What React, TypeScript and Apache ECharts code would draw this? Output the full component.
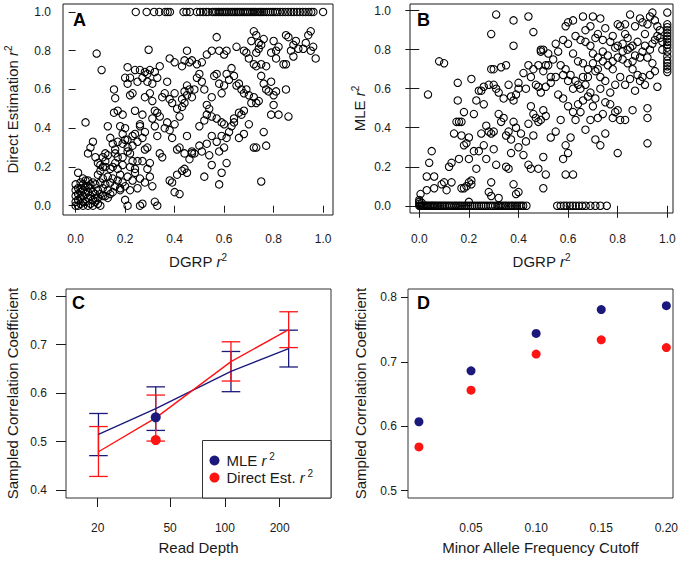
import React, { useEffect, useRef } from "react";
import * as echarts from "echarts";

// ---------- Panel A: DGRP r2 vs Direct Estimation r2 ----------
const aTopRowX = [0.243, 0.287, 0.317, 0.338, 0.362, 0.372, 0.381, 0.436, 0.448, 0.462, 0.49, 0.503, 0.516, 0.527, 0.536, 0.552, 0.561, 0.568, 0.577, 0.583, 0.591, 0.598, 0.606, 0.612, 0.619, 0.627, 0.633, 0.641, 0.648, 0.655, 0.662, 0.668, 0.676, 0.683, 0.691, 0.697, 0.705, 0.713, 0.72, 0.728, 0.737, 0.745, 0.752, 0.761, 0.77, 0.779, 0.788, 0.797, 0.806, 0.815, 0.826, 0.837, 0.848, 0.859, 0.871, 0.882, 0.894, 0.906, 0.918, 0.929, 0.941, 0.952, 0.961, 1.0];
const aPoints = [
  [0.085, 0.785], [0.105, 0.7], [0.295, 0.805], [0.21, 0.715], [0.24, 0.7], [0.26, 0.7], [0.28, 0.69], [0.3, 0.7], [0.32, 0.69], [0.34, 0.72],
  [0.22, 0.66], [0.25, 0.64], [0.27, 0.66], [0.29, 0.68], [0.31, 0.63], [0.33, 0.66], [0.38, 0.76], [0.4, 0.74], [0.43, 0.72], [0.44, 0.75],
  [0.45, 0.8], [0.46, 0.74], [0.47, 0.75], [0.49, 0.73], [0.51, 0.74], [0.53, 0.78], [0.55, 0.8], [0.58, 0.8], [0.6, 0.78], [0.61, 0.8],
  [0.57, 0.87], [0.65, 0.82], [0.68, 0.8], [0.69, 0.79], [0.7, 0.76], [0.71, 0.85], [0.72, 0.9], [0.73, 0.88], [0.74, 0.84], [0.75, 0.83],
  [0.76, 0.86], [0.74, 0.81], [0.73, 0.79], [0.72, 0.73], [0.73, 0.72], [0.75, 0.73], [0.77, 0.72], [0.79, 0.79], [0.8, 0.85], [0.81, 0.8],
  [0.82, 0.82], [0.81, 0.76], [0.84, 0.73], [0.85, 0.88], [0.86, 0.87], [0.87, 0.8], [0.88, 0.83], [0.89, 0.85], [0.88, 0.77], [0.92, 0.81],
  [0.93, 0.84], [0.94, 0.88], [0.95, 0.9], [0.96, 0.82], [0.97, 0.76], [0.95, 0.8], [0.9, 0.81], [0.85, 0.73],
  [0.155, 0.6], [0.16, 0.555], [0.155, 0.48], [0.17, 0.49], [0.19, 0.47], [0.2, 0.66], [0.22, 0.57], [0.23, 0.58], [0.21, 0.63], [0.24, 0.49],
  [0.26, 0.42], [0.27, 0.47], [0.28, 0.56], [0.29, 0.64], [0.3, 0.58], [0.31, 0.54], [0.32, 0.49], [0.33, 0.48], [0.34, 0.46], [0.35, 0.56],
  [0.36, 0.58], [0.37, 0.64], [0.38, 0.55], [0.39, 0.53], [0.4, 0.58], [0.41, 0.5], [0.42, 0.46], [0.43, 0.55], [0.44, 0.59], [0.45, 0.62],
  [0.45, 0.57], [0.46, 0.6], [0.47, 0.56], [0.44, 0.53], [0.43, 0.51], [0.48, 0.6], [0.49, 0.66], [0.5, 0.68], [0.51, 0.64], [0.52, 0.6],
  [0.53, 0.52], [0.54, 0.5], [0.55, 0.56], [0.56, 0.67], [0.57, 0.68], [0.58, 0.63], [0.59, 0.58], [0.6, 0.62], [0.61, 0.68], [0.62, 0.65],
  [0.63, 0.71], [0.64, 0.67], [0.65, 0.62], [0.66, 0.63], [0.67, 0.6], [0.68, 0.58], [0.69, 0.6], [0.7, 0.57], [0.71, 0.53], [0.72, 0.56],
  [0.73, 0.53], [0.74, 0.54], [0.75, 0.67], [0.76, 0.63], [0.77, 0.6], [0.78, 0.59], [0.79, 0.64], [0.8, 0.57], [0.8, 0.52], [0.81, 0.59],
  [0.82, 0.47], [0.79, 0.47], [0.85, 0.6], [0.86, 0.46], [0.53, 0.47], [0.55, 0.46], [0.57, 0.45], [0.59, 0.43], [0.6, 0.42], [0.64, 0.45],
  [0.66, 0.48], [0.67, 0.47], [0.68, 0.49],
  [0.04, 0.43], [0.05, 0.27], [0.06, 0.3], [0.07, 0.33], [0.08, 0.25], [0.09, 0.22], [0.1, 0.21], [0.11, 0.25], [0.12, 0.27], [0.13, 0.41],
  [0.14, 0.35], [0.15, 0.32], [0.16, 0.29], [0.17, 0.25], [0.18, 0.41], [0.19, 0.37], [0.2, 0.34], [0.21, 0.3], [0.22, 0.27], [0.23, 0.23],
  [0.24, 0.37], [0.25, 0.33], [0.26, 0.41], [0.27, 0.35], [0.28, 0.38], [0.29, 0.3], [0.3, 0.22], [0.31, 0.45], [0.32, 0.41], [0.33, 0.36],
  [0.34, 0.27], [0.35, 0.25], [0.36, 0.4], [0.37, 0.43], [0.38, 0.39], [0.39, 0.35], [0.4, 0.42], [0.41, 0.29], [0.42, 0.3], [0.43, 0.18],
  [0.44, 0.27], [0.45, 0.36], [0.46, 0.24], [0.47, 0.28], [0.48, 0.27], [0.5, 0.41], [0.51, 0.28], [0.52, 0.44], [0.53, 0.32], [0.54, 0.26],
  [0.55, 0.36], [0.57, 0.33], [0.58, 0.28], [0.59, 0.36], [0.6, 0.3], [0.61, 0.35], [0.62, 0.38], [0.63, 0.41], [0.64, 0.43], [0.66, 0.35],
  [0.68, 0.37], [0.7, 0.42], [0.72, 0.3], [0.73, 0.3], [0.76, 0.38], [0.77, 0.31], [0.52, 0.15], [0.55, 0.21], [0.58, 0.11], [0.59, 0.17],
  [0.61, 0.22], [0.75, 0.125], [0.42, 0.06], [0.4, 0.07], [0.38, 0.13], [0.39, 0.12], [0.41, 0.16], [0.45, 0.17], [0.44, 0.19], [0.47, 0.27],
  [0.5, 0.31],
  [0.0, 0.0], [0.0, 0.02], [0.0, 0.05], [0.0, 0.08], [0.0, 0.11], [0.01, 0.0], [0.01, 0.03], [0.01, 0.06], [0.01, 0.09], [0.01, 0.17],
  [0.02, 0.01], [0.02, 0.04], [0.02, 0.07], [0.02, 0.12], [0.03, 0.0], [0.03, 0.05], [0.03, 0.08], [0.03, 0.14], [0.04, 0.02], [0.04, 0.06],
  [0.04, 0.1], [0.05, 0.0], [0.05, 0.04], [0.05, 0.07], [0.05, 0.13], [0.06, 0.01], [0.06, 0.05], [0.06, 0.09], [0.07, 0.03], [0.07, 0.07],
  [0.07, 0.12], [0.08, 0.02], [0.08, 0.06], [0.08, 0.11], [0.09, 0.04], [0.09, 0.08], [0.09, 0.16], [0.1, 0.06], [0.1, 0.12], [0.1, 0.18],
  [0.11, 0.09], [0.11, 0.14], [0.12, 0.05], [0.12, 0.11], [0.12, 0.2], [0.13, 0.08], [0.13, 0.15], [0.14, 0.12], [0.14, 0.19], [0.15, 0.07],
  [0.15, 0.14], [0.16, 0.1], [0.16, 0.22], [0.17, 0.13], [0.17, 0.19], [0.18, 0.08], [0.18, 0.16], [0.19, 0.12], [0.19, 0.25], [0.2, 0.03],
  [0.2, 0.1], [0.21, 0.0], [0.21, 0.15], [0.22, 0.08], [0.22, 0.2], [0.23, 0.13], [0.24, 0.17], [0.25, 0.09], [0.26, 0.14], [0.26, 0.0],
  [0.27, 0.01], [0.28, 0.12], [0.29, 0.19], [0.3, 0.15], [0.31, 0.1], [0.32, 0.02], [0.33, 0.0], [0.27, 0.23], [0.28, 0.29], [0.25, 0.23],
  [0.23, 0.31], [0.21, 0.28], [0.19, 0.21], [0.24, 0.19], [0.18, 0.09], [0.03, 0.11], [0.04, 0.13], [0.06, 0.11], [0.05, 0.1], [0.02, 0.09],
  [0.08, 0.04], [0.03, 0.02], [0.11, 0.05], [0.14, 0.06], [0.13, 0.04], [0.1, 0.0], [0.07, 0.0], [0.09, 0.01], [0.12, 0.23], [0.13, 0.26],
  [0.11, 0.2], [0.15, 0.2], [0.17, 0.33], [0.19, 0.32], [0.21, 0.34], [0.23, 0.36], [0.2, 0.4], [0.16, 0.27],
];

// ---------- Panel B: DGRP r2 vs MLE r2 ----------
const bZeroRowX = [0.0, 0.004, 0.008, 0.012, 0.017, 0.021, 0.026, 0.031, 0.036, 0.042, 0.048, 0.053, 0.059, 0.065, 0.071, 0.078, 0.084, 0.091, 0.097, 0.104, 0.111, 0.118, 0.125, 0.133, 0.141, 0.148, 0.156, 0.164, 0.172, 0.181, 0.189, 0.197, 0.206, 0.214, 0.223, 0.232, 0.241, 0.25, 0.259, 0.268, 0.277, 0.287, 0.296, 0.306, 0.316, 0.322, 0.329, 0.337, 0.345, 0.352, 0.361, 0.37, 0.377, 0.386, 0.394, 0.403, 0.411, 0.419, 0.432, 0.556, 0.57, 0.583, 0.594, 0.607, 0.619, 0.631, 0.644, 0.657, 0.671, 0.69, 0.71, 0.73, 0.756];
const bOneColY = [0.99, 0.93, 0.915, 0.9, 0.885, 0.87, 0.855, 0.84, 0.825, 0.81, 0.79, 0.765, 0.745, 0.73, 0.715, 0.7, 0.685];
const bPoints = [
  [0.0, 0.02], [0.0, 0.03], [0.005, 0.06], [0.0, 0.01], [0.01, 0.015],
  [0.035, 0.57], [0.08, 0.74], [0.1, 0.73], [0.31, 0.98], [0.29, 0.88], [0.38, 0.95], [0.38, 0.82], [0.44, 0.97], [0.46, 0.89], [0.49, 0.8],
  [0.52, 0.78], [0.55, 0.83], [0.59, 0.92], [0.6, 0.94], [0.62, 0.95], [0.66, 0.97], [0.7, 0.97], [0.73, 0.96], [0.67, 0.9], [0.69, 0.92],
  [0.72, 0.88], [0.75, 0.91], [0.78, 0.87], [0.8, 0.93], [0.81, 0.92], [0.83, 0.93], [0.85, 0.98], [0.87, 0.92], [0.89, 0.96], [0.9, 0.94],
  [0.92, 0.93], [0.93, 0.97], [0.94, 0.99], [0.95, 0.95], [0.96, 0.92], [0.97, 0.9], [0.91, 0.88], [0.88, 0.84], [0.86, 0.82], [0.84, 0.8],
  [0.82, 0.83], [0.79, 0.81], [0.77, 0.84], [0.74, 0.85], [0.71, 0.86], [0.69, 0.82], [0.7, 0.78], [0.72, 0.76], [0.74, 0.79], [0.76, 0.77],
  [0.78, 0.74], [0.8, 0.76], [0.82, 0.75], [0.84, 0.73], [0.86, 0.7], [0.88, 0.67], [0.9, 0.66], [0.92, 0.76], [0.94, 0.73], [0.95, 0.69],
  [0.96, 0.61], [0.93, 0.67], [0.91, 0.62], [0.89, 0.64], [0.87, 0.59], [0.85, 0.65], [0.83, 0.62], [0.81, 0.66], [0.79, 0.62], [0.77, 0.58],
  [0.75, 0.64], [0.73, 0.66], [0.71, 0.69], [0.68, 0.7], [0.66, 0.73], [0.64, 0.74], [0.62, 0.78], [0.6, 0.83], [0.58, 0.85], [0.56, 0.79],
  [0.54, 0.75], [0.52, 0.72], [0.5, 0.69], [0.48, 0.72], [0.46, 0.7], [0.45, 0.66], [0.44, 0.72], [0.42, 0.68], [0.4, 0.63], [0.43, 0.6],
  [0.47, 0.62], [0.49, 0.58], [0.51, 0.61], [0.53, 0.63], [0.55, 0.66], [0.57, 0.72], [0.59, 0.7], [0.61, 0.67], [0.63, 0.64], [0.65, 0.6],
  [0.67, 0.62], [0.69, 0.58], [0.71, 0.55], [0.73, 0.6], [0.75, 0.53], [0.77, 0.52], [0.79, 0.48], [0.81, 0.44], [0.83, 0.44], [0.78, 0.45],
  [0.8, 0.49], [0.86, 0.49], [0.92, 0.5], [0.92, 0.45], [0.92, 0.32], [0.8, 0.27], [0.75, 0.37], [0.73, 0.31], [0.71, 0.34], [0.69, 0.44],
  [0.67, 0.39], [0.65, 0.48], [0.63, 0.44], [0.61, 0.35], [0.59, 0.31], [0.58, 0.24], [0.6, 0.27], [0.62, 0.16], [0.59, 0.16], [0.57, 0.44],
  [0.55, 0.38], [0.53, 0.35], [0.51, 0.46], [0.5, 0.49], [0.49, 0.44], [0.48, 0.43], [0.47, 0.45], [0.46, 0.47], [0.45, 0.51], [0.44, 0.42],
  [0.43, 0.33], [0.42, 0.26], [0.41, 0.37], [0.44, 0.21], [0.45, 0.19], [0.46, 0.36], [0.48, 0.19], [0.5, 0.25], [0.5, 0.09], [0.51, 0.16],
  [0.4, 0.07], [0.39, 0.06], [0.38, 0.11], [0.4, 0.3], [0.39, 0.4], [0.38, 0.43], [0.37, 0.34], [0.36, 0.38], [0.35, 0.2], [0.35, 0.36],
  [0.34, 0.45], [0.33, 0.43], [0.32, 0.47], [0.31, 0.6], [0.3, 0.62], [0.29, 0.7], [0.3, 0.7], [0.33, 0.71], [0.35, 0.72], [0.36, 0.62],
  [0.37, 0.56], [0.38, 0.54], [0.39, 0.57], [0.4, 0.6], [0.34, 0.55], [0.32, 0.58], [0.28, 0.62], [0.26, 0.61], [0.25, 0.59], [0.24, 0.59],
  [0.23, 0.54], [0.22, 0.47], [0.21, 0.65], [0.26, 0.52], [0.27, 0.41], [0.28, 0.38], [0.29, 0.37], [0.3, 0.38], [0.31, 0.21], [0.3, 0.29],
  [0.29, 0.12], [0.28, 0.07], [0.27, 0.24], [0.26, 0.31], [0.25, 0.37], [0.24, 0.28], [0.23, 0.19], [0.22, 0.28], [0.21, 0.13], [0.21, 0.11],
  [0.2, 0.24], [0.2, 0.35], [0.19, 0.32], [0.18, 0.31], [0.17, 0.36], [0.18, 0.48], [0.16, 0.43], [0.17, 0.43], [0.155, 0.54], [0.155, 0.63],
  [0.14, 0.37], [0.13, 0.22], [0.12, 0.2], [0.11, 0.08], [0.1, 0.12], [0.09, 0.11], [0.06, 0.15], [0.06, 0.09], [0.05, 0.28], [0.04, 0.22],
  [0.03, 0.15], [0.03, 0.08], [0.18, 0.09], [0.19, 0.1], [0.2, 0.02], [0.13, 0.12], [0.17, 0.09], [0.2, 0.12], [0.16, 0.24], [0.15, 0.43],
  [0.29, 0.05], [0.32, 0.04], [0.36, 0.19], [0.37, 0.27], [0.48, 0.61], [0.49, 0.79], [0.5, 0.8], [0.51, 0.72], [0.53, 0.66], [0.56, 0.57],
  [0.58, 0.55], [0.6, 0.51], [0.62, 0.48], [0.64, 0.52], [0.66, 0.54], [0.68, 0.56], [0.7, 0.51], [0.72, 0.45], [0.74, 0.47],
  [0.98, 0.84], [0.98, 0.8], [0.97, 0.86], [0.96, 0.87], [0.95, 0.85], [0.94, 0.83], [0.93, 0.8], [0.91, 0.82], [0.9, 0.79], [0.89, 0.76],
  [0.87, 0.77], [0.86, 0.74], [0.85, 0.81], [0.84, 0.86], [0.83, 0.88], [0.82, 0.79], [0.8, 0.82], [0.78, 0.7], [0.76, 0.72], [0.74, 0.74],
  [0.72, 0.7], [0.7, 0.73], [0.68, 0.66], [0.66, 0.66], [0.64, 0.62], [0.62, 0.6], [0.6, 0.64], [0.58, 0.67], [0.65, 0.85], [0.67, 0.84],
  [0.63, 0.87],
];

// ---------- Panel C: read depth ----------
const readDepth = [20.2, 41.7, 108, 224];
const mleMean = [0.515, 0.568, 0.645, 0.692];
const mleLow = [0.471, 0.523, 0.603, 0.654];
const mleHigh = [0.558, 0.613, 0.686, 0.73];
const dirMean = [0.479, 0.549, 0.665, 0.731];
const dirLow = [0.428, 0.501, 0.625, 0.694];
const dirHigh = [0.531, 0.596, 0.706, 0.768];
const dotDepth = [41.7];
const mleDot = [0.55];
const dirDot = [0.503];
const depthTicks = [20, 50, 100, 200];
const cYTicks = [0.4, 0.5, 0.6, 0.7, 0.8];

// ---------- Panel D: MAF cutoff ----------
const mafCutoff = [0.01, 0.05, 0.1, 0.15, 0.2];
const mleByMaf = [0.607, 0.686, 0.744, 0.781, 0.787];
const dirByMaf = [0.568, 0.656, 0.712, 0.734, 0.722];
const mafTicks = [0.05, 0.1, 0.15, 0.2];
const dYTicks = [0.5, 0.6, 0.7, 0.8];

const unitTicks = [0, 0.2, 0.4, 0.6, 0.8, 1.0];

const FONT = "'Liberation Sans', Arial, Helvetica, sans-serif";
const BLUE = "#1b1a7c";
const RED = "#ff1414";
const INK = "#1a1a1a";

const nameRich = {
  n: { fontSize: 15, fontFamily: FONT, color: INK, lineHeight: 18 },
  i: { fontSize: 15, fontFamily: FONT, color: INK, fontStyle: "italic", lineHeight: 18 },
  s: { fontSize: 10, fontFamily: FONT, color: INK, lineHeight: 11, verticalAlign: "top" },
};

function axis(opts: any) {
  const { min, max, ticks, fmt, tickLen, margin, name, nameGap, showTick = true } = opts;
  return {
    type: "value",
    min,
    max,
    gridIndex: opts.gridIndex,
    axisLine: { show: false },
    splitLine: { show: false },
    axisTick: {
      show: showTick,
      inside: false,
      length: tickLen,
      customValues: ticks,
      lineStyle: { color: INK, width: 1 },
    },
    axisLabel: {
      customValues: ticks,
      formatter: fmt,
      margin,
      fontSize: 12,
      fontFamily: FONT,
      color: INK,
    },
    name,
    nameLocation: "middle",
    nameGap,
    nameTextStyle: { rich: nameRich, fontFamily: FONT, fontSize: 15, color: INK },
  };
}

function errorBars(color: string) {
  return (params: any, api: any) => {
    const x = api.value(0);
    const lo = api.coord([x, api.value(1)]);
    const hi = api.coord([x, api.value(2)]);
    const hw = 9.3;
    const style = { stroke: color, lineWidth: 1.3 };
    return {
      type: "group",
      children: [
        { type: "line", shape: { x1: lo[0], y1: lo[1], x2: hi[0], y2: hi[1] }, style },
        { type: "line", shape: { x1: lo[0] - hw, y1: lo[1], x2: lo[0] + hw, y2: lo[1] }, style },
        { type: "line", shape: { x1: hi[0] - hw, y1: hi[1], x2: hi[0] + hw, y2: hi[1] }, style },
      ],
    };
  };
}

const openCircle = {
  type: "scatter",
  symbol: "circle",
  symbolSize: 7.4,
  itemStyle: { color: "rgba(0,0,0,0)", borderColor: "#000", borderWidth: 1.05, opacity: 1 },
  silent: true,
};

function buildOption() {
  const lg = (v: number) => Math.log10(v);
  const aData = [...aTopRowX.map((x) => [x, 1.0]), ...aPoints];
  const bData = [...bZeroRowX.map((x) => [x, 0.0]), ...bOneColY.map((y) => [1.0, y]), ...bPoints];
  const fmt1 = (v: number) => v.toFixed(1);

  return {
    animation: false,
    backgroundColor: "#fff",
    textStyle: { fontFamily: FONT },
    grid: [
      { left: 63, top: 4, width: 270, height: 211, show: true, borderColor: INK, borderWidth: 1, backgroundColor: "transparent" },
      { left: 410, top: 4, width: 263, height: 209, show: true, borderColor: INK, borderWidth: 1, backgroundColor: "transparent" },
      { left: 66, top: 289, width: 265, height: 209, show: true, borderColor: "#333", borderWidth: 1, backgroundColor: "transparent" },
      { left: 408, top: 289, width: 265, height: 209, show: true, borderColor: "#333", borderWidth: 1, backgroundColor: "transparent" },
    ],
    xAxis: [
      axis({ gridIndex: 0, min: -0.051, max: 1.04, ticks: unitTicks, fmt: fmt1, tickLen: 7, margin: 18, name: "{n|DGRP }{i|r}{s|2}", nameGap: 37 }),
      axis({ gridIndex: 1, min: -0.0375, max: 1.023, ticks: unitTicks, fmt: fmt1, tickLen: 12, margin: 20, name: "{n|DGRP }{i|r}{s|2}", nameGap: 39 }),
      axis({ gridIndex: 2, min: 1.127, max: 2.583, ticks: depthTicks.map(lg), fmt: (v: number) => String(Math.round(Math.pow(10, v))), tickLen: 9, margin: 24, name: "Read Depth", nameGap: 42 }),
      axis({ gridIndex: 3, min: 0.0016, max: 0.2051, ticks: mafTicks, fmt: (v: number) => v.toFixed(2), tickLen: 7, margin: 24, name: "Minor Allele Frequency Cutoff", nameGap: 42, showTick: false }),
    ],
    yAxis: [
      axis({ gridIndex: 0, min: -0.048, max: 1.041, ticks: unitTicks, fmt: fmt1, tickLen: 7, margin: 12, name: "{n|Direct Estimation }{i|r}{s|2}", nameGap: 42 }),
      axis({ gridIndex: 1, min: -0.037, max: 1.034, ticks: unitTicks, fmt: fmt1, tickLen: 14, margin: 19, name: "{n|MLE }{i|r}{s|2}", nameGap: 42 }),
      axis({ gridIndex: 2, min: 0.3835, max: 0.815, ticks: cYTicks, fmt: fmt1, tickLen: 10, margin: 19, name: "Sampled Correlation Coefficient", nameGap: 46 }),
      axis({ gridIndex: 3, min: 0.4887, max: 0.8129, ticks: dYTicks, fmt: fmt1, tickLen: 7, margin: 11, name: "Sampled Correlation Coefficient", nameGap: 40 }),
    ],
    legend: {
      show: true,
      selectedMode: false,
      orient: "vertical",
      left: 209.5,
      top: 451.5,
      padding: 0,
      itemGap: 0.6,
      itemWidth: 14,
      itemHeight: 10,
      icon: "circle",
      z: 10,
      data: ["MLE r²", "Direct Est. r²"],
      formatter: (n: string) => (n === "MLE r²" ? "{n|MLE }{i|r}{s| 2}" : "{n|Direct Est. }{i|r}{s| 2}"),
      textStyle: { rich: nameRich, fontFamily: FONT, fontSize: 15, color: INK },
    },
    graphic: [
      { type: "rect", z: 1, shape: { x: 202.5, y: 440.5, width: 128.5, height: 57.5 }, style: { fill: "#fff", stroke: "#333", lineWidth: 1 } },
      { type: "text", left: 73, top: 11, z: 5, style: { text: "A", font: `bold 18px ${FONT}`, fill: "#000" } },
      { type: "text", left: 417, top: 11, z: 5, style: { text: "B", font: `bold 18px ${FONT}`, fill: "#000" } },
      { type: "text", left: 72, top: 294, z: 5, style: { text: "C", font: `bold 18px ${FONT}`, fill: "#000" } },
      { type: "text", left: 417, top: 294, z: 5, style: { text: "D", font: `bold 18px ${FONT}`, fill: "#000" } },
    ],
    series: [
      { ...openCircle, name: "A", xAxisIndex: 0, yAxisIndex: 0, data: aData },
      { ...openCircle, name: "B", xAxisIndex: 1, yAxisIndex: 1, data: bData },
      {
        type: "line", name: "MLE line", xAxisIndex: 2, yAxisIndex: 2, showSymbol: false, symbol: "none", silent: true,
        lineStyle: { color: BLUE, width: 1.4 }, data: readDepth.map((d, i) => [lg(d), mleMean[i]]),
      },
      {
        type: "line", name: "Direct line", xAxisIndex: 2, yAxisIndex: 2, showSymbol: false, symbol: "none", silent: true,
        lineStyle: { color: RED, width: 1.4 }, data: readDepth.map((d, i) => [lg(d), dirMean[i]]),
      },
      {
        type: "custom", name: "MLE err", xAxisIndex: 2, yAxisIndex: 2, silent: true, renderItem: errorBars(BLUE),
        encode: { x: 0, y: [1, 2] }, data: readDepth.map((d, i) => [lg(d), mleLow[i], mleHigh[i]]),
      },
      {
        type: "custom", name: "Direct err", xAxisIndex: 2, yAxisIndex: 2, silent: true, renderItem: errorBars(RED),
        encode: { x: 0, y: [1, 2] }, data: readDepth.map((d, i) => [lg(d), dirLow[i], dirHigh[i]]),
      },
      {
        type: "scatter", name: "Direct Est. r²", xAxisIndex: 2, yAxisIndex: 2, symbolSize: 10, silent: true, z: 3,
        itemStyle: { color: RED, opacity: 1 }, data: dotDepth.map((d, i) => [lg(d), dirDot[i]]),
      },
      {
        type: "scatter", name: "MLE r²", xAxisIndex: 2, yAxisIndex: 2, symbolSize: 10, silent: true, z: 3,
        itemStyle: { color: BLUE, opacity: 1 }, data: dotDepth.map((d, i) => [lg(d), mleDot[i]]),
      },
      {
        type: "scatter", name: "MLE r²", xAxisIndex: 3, yAxisIndex: 3, symbolSize: 9, silent: true,
        itemStyle: { color: BLUE, opacity: 1 }, data: mafCutoff.map((m, i) => [m, mleByMaf[i]]),
      },
      {
        type: "scatter", name: "Direct Est. r²", xAxisIndex: 3, yAxisIndex: 3, symbolSize: 9, silent: true,
        itemStyle: { color: RED, opacity: 1 }, data: mafCutoff.map((m, i) => [m, dirByMaf[i]]),
      },
    ],
  };
}

export default function App() {
  const ref = useRef<HTMLDivElement>(null);
  useEffect(() => {
    if (!ref.current) return;
    const chart = echarts.init(ref.current, null, { renderer: "svg" });
    chart.setOption(buildOption() as any);
    return () => chart.dispose();
  }, []);
  return (
    <div
      ref={ref}
      style={{ position: "fixed", left: 0, top: 0, width: 682, height: 561, background: "#fff" }}
    />
  );
}
